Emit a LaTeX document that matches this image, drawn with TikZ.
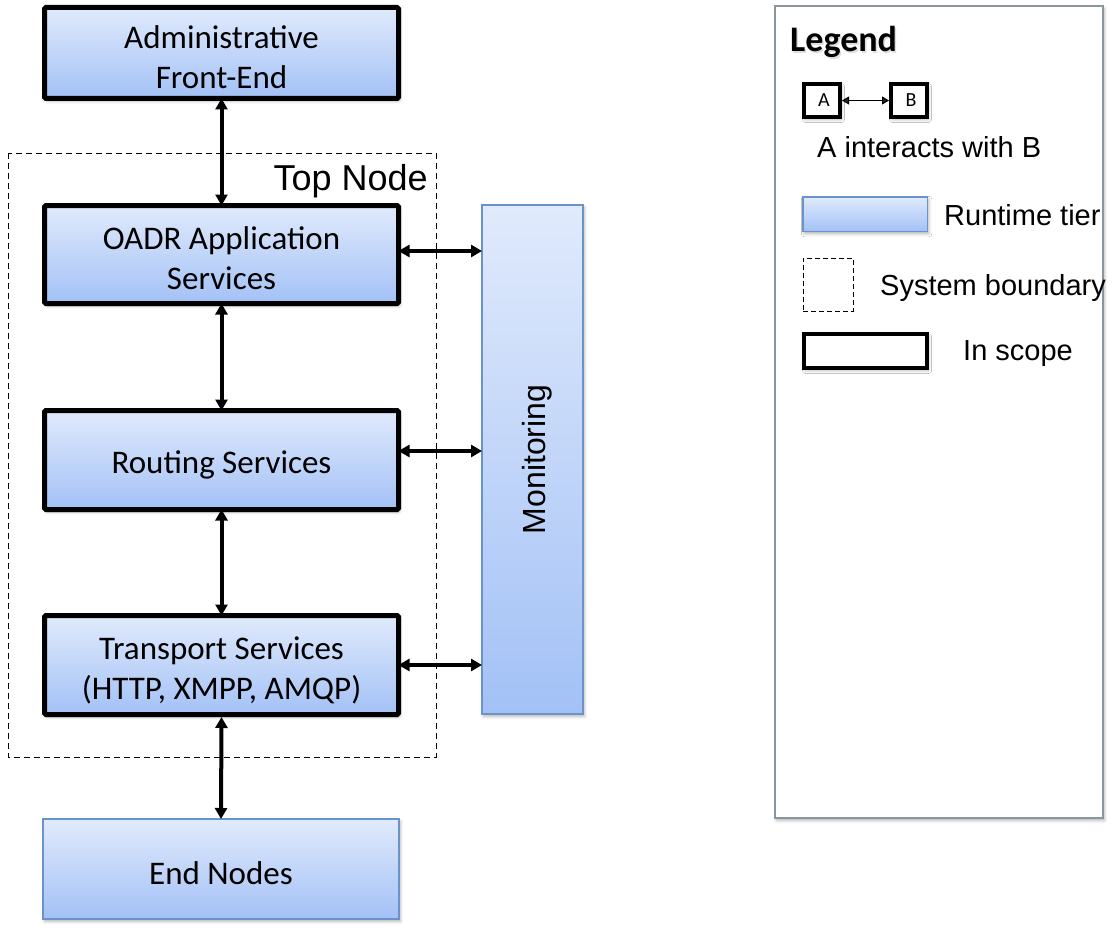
\documentclass[tikz,border=0pt]{standalone}
\usepackage{fontspec}
\setmainfont{Carlito}
\newfontfamily\helv{Liberation Sans}
\usetikzlibrary{arrows.meta,shadows.blur}
\definecolor{tiertop}{HTML}{E0EAFC}
\definecolor{tierbot}{HTML}{A3C1F6}
\definecolor{tierborder}{HTML}{6A93C9}
\definecolor{legendgray}{HTML}{8B959C}
\tikzset{
  softshadow/.style={blur shadow={shadow xshift=1.5pt, shadow yshift=-2.5pt, shadow blur radius=3pt, shadow opacity=30}},
  tier/.style={shade, top color=tiertop, bottom color=tierbot, softshadow, inner sep=0pt, outer sep=0pt},
  scopebox/.style={tier, draw=black, line width=5pt, rounded corners=1.5pt, minimum width=354pt},
  boxtext/.style={align=center, font=\fontsize{33}{40}\selectfont, inner sep=0pt},
  plaintier/.style={tier, draw=tierborder, line width=1.5pt},
  biarrow/.style={line width=4pt, {Triangle[length=11pt,width=12pt]}-{Triangle[length=11pt,width=12pt]}},
  thinarrow/.style={line width=1pt, {Triangle[length=7pt,width=8pt]}-{Triangle[length=7pt,width=8pt]}},
  legtext/.style={font=\helv\fontsize{29}{34}\selectfont, anchor=west, inner sep=0pt},
  smallbox/.style={draw=black, line width=4pt, fill=white, minimum width=36pt, minimum height=33pt, inner sep=0pt, outer sep=0pt, softshadow},
}
\begin{document}
\begin{tikzpicture}[x=1pt,y=-1pt]
\useasboundingbox (0,0) rectangle (1113,931);

% system boundary
\draw[line width=1pt, dash pattern=on 6pt off 4pt] (8,153) rectangle (436,757);
\node[font=\helv\fontsize{36}{40}\selectfont, anchor=base east, inner sep=0pt] (topnode) at (428,190) {Top Node};

% tiers
\node[scopebox, minimum height=91pt] (admin) at (221.5,53) {};
\node[boxtext] (admintext) at ([yshift=-4pt]admin.center) {Administrative\\Front-End};
\node[scopebox, minimum height=98pt] (oadr) at (221.5,254.5) {};
\node[boxtext] (oadrtext) at ([yshift=-4pt]oadr.center) {OADR Application\\Services};
\node[scopebox, minimum height=99pt] (routing) at (221.5,460) {};
\node[boxtext] (routingtext) at ([yshift=-5pt]routing.center) {Routing Services};
\node[scopebox, minimum height=99pt] (transport) at (221.5,665) {};
\node[boxtext] (transporttext) at ([yshift=-5pt]transport.center) {Transport Services\\(HTTP, XMPP, AMQP)};
\node[plaintier, minimum width=356pt, minimum height=100pt] (endnodes) at (221,869) {};
\node[boxtext] (endtext) at ([yshift=-4pt]endnodes.center) {End Nodes};
\node[plaintier, minimum width=101pt, minimum height=509pt] (mon) at (532.5,459.5) {};
\node[font=\helv\fontsize{32}{36}\selectfont, rotate=90, inner sep=0pt] (montext) at ([xshift=5pt]mon.center) {Monitoring};

% vertical connectors
\draw[biarrow] (admin.south) -- (oadr.north);
\draw[biarrow] (oadr.south) -- (routing.north);
\draw[biarrow] (routing.south) -- (transport.north);
\draw[biarrow] ([yshift=-2.5pt]transport.south) -- (endnodes.north);

% horizontal connectors
\draw[biarrow] ([yshift=3.5pt]oadr.east) -- ([yshift=3.5pt]oadr.east -| mon.west);
\draw[biarrow] ([yshift=9pt]routing.east) -- ([yshift=9pt]routing.east -| mon.west);
\draw[biarrow] (transport.east) -- (transport.east -| mon.west);

% legend
\draw[draw=legendgray, line width=2pt, fill=white, softshadow] (775,6) rectangle (1103,818);
\node[font=\bfseries\fontsize{36}{40}\selectfont, anchor=west, inner sep=0pt, text=black!25, opacity=0.5] (legshadow) at (791.5,44) {Legend};
\node[font=\bfseries\fontsize{36}{40}\selectfont, anchor=west, inner sep=0pt] (legtitle) at (790,42) {Legend};

\node[smallbox, font=\fontsize{20}{24}\selectfont] (la) at (822,100.5) {\hspace{4pt}A};
\node[smallbox, font=\fontsize{20}{24}\selectfont] (lb) at (909,100.5) {\hspace{4pt}B};
\draw[thinarrow] ([xshift=2pt]la.east) -- ([xshift=-2pt]lb.west);
\node[legtext] (labinteract) at (817,147) {A interacts with B};

\node[plaintier, minimum width=124.5pt, minimum height=34.5pt] (legtier) at (865,214) {};
\node[legtext] (labtier) at (944,215) {Runtime tier};

\node[draw=black, line width=1pt, dash pattern=on 5pt off 3pt, minimum width=50pt, minimum height=53pt, inner sep=0pt] (legbound) at (828,284.5) {};
\node[legtext] (labbound) at (880,288) {System boundary};

\node[draw=black, line width=4pt, fill=white, minimum width=123pt, minimum height=34pt, inner sep=0pt, softshadow] (legscope) at (865.5,351) {};
\node[legtext] (labscope) at (963,354) {In scope};
\end{tikzpicture}
\end{document}
